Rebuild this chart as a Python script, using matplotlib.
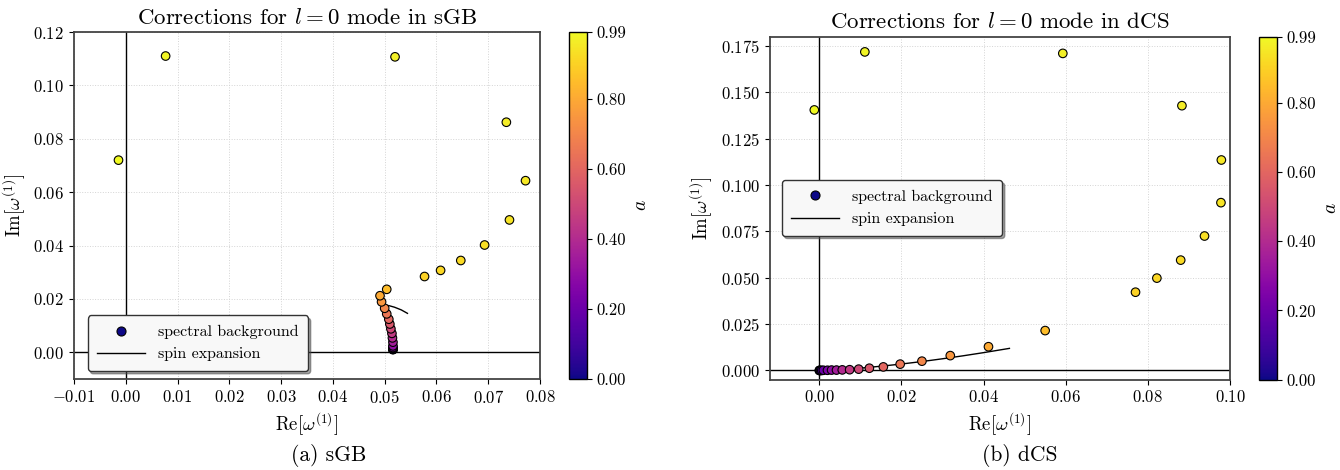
import numpy as np
import matplotlib
matplotlib.use("Agg")
import matplotlib.pyplot as plt
from matplotlib.lines import Line2D

plt.rcParams["font.family"] = "serif"
plt.rcParams["font.serif"] = ["cmr10", "DejaVu Serif"]
plt.rcParams["mathtext.fontset"] = "cm"
plt.rcParams["axes.formatter.use_mathtext"] = True
plt.rcParams["font.size"] = 12

# spins used for both theories
SPINS = [0.0, 0.05, 0.1, 0.15, 0.2, 0.25, 0.3, 0.35, 0.4, 0.45, 0.5, 0.55,
         0.6, 0.65, 0.7, 0.75, 0.8, 0.85, 0.9, 0.91, 0.92, 0.93, 0.94,
         0.95, 0.96, 0.97, 0.98, 0.99]

# sGB spectral background
SGB_RE = [0.0516, 0.0516, 0.0516, 0.0516, 0.0516, 0.0516, 0.0516, 0.0516,
          0.0515, 0.0514, 0.0512, 0.0510, 0.0508, 0.0504, 0.0500, 0.0494,
          0.0491, 0.0504, 0.0577, 0.0608, 0.0647, 0.0693, 0.0741, 0.0772,
          0.0735, 0.0520, 0.0077, -0.0014]
SGB_IM = [0.0010, 0.0011, 0.0012, 0.0013, 0.0015, 0.0018, 0.0024, 0.0038,
          0.0054, 0.0071, 0.0088, 0.0106, 0.0124, 0.0144, 0.0165, 0.0189,
          0.0212, 0.0236, 0.0284, 0.0307, 0.0344, 0.0402, 0.0496, 0.0643,
          0.0862, 0.1107, 0.1110, 0.0720]

# sGB spin expansion
SGB_EXP_RE = [0.0516, 0.0516, 0.0515, 0.0513, 0.0510, 0.0506, 0.0502, 0.0500,
              0.0508, 0.0519, 0.0532, 0.0544]
SGB_EXP_IM = [0.0010, 0.0030, 0.0055, 0.0080, 0.0105, 0.0130, 0.0155, 0.0175,
              0.0175, 0.0169, 0.0159, 0.0146]

# dCS spectral background
DCS_RE = [0.0, 0.0001, 0.0003, 0.0006, 0.0010, 0.0020, 0.0030, 0.0042,
          0.0056, 0.0074, 0.0096, 0.0122, 0.0156, 0.0197, 0.0250, 0.0319,
          0.0412, 0.0550, 0.0770, 0.0822, 0.0880, 0.0938, 0.0978, 0.0979,
          0.0883, 0.0593, 0.0111, -0.0012]
DCS_IM = [0.0, 0.0, 0.0, 0.0, 0.0001, 0.0001, 0.0002, 0.0002,
          0.0003, 0.0004, 0.0007, 0.0012, 0.0019, 0.0034, 0.0050, 0.0080,
          0.0128, 0.0215, 0.0422, 0.0498, 0.0595, 0.0725, 0.0905, 0.1135,
          0.1428, 0.1710, 0.1718, 0.1405]

# dCS spin expansion
DCS_EXP_RE = [0.0, 0.005, 0.01, 0.015, 0.02, 0.025, 0.03, 0.035, 0.04, 0.0463]
DCS_EXP_IM = [0.0, 0.00045, 0.00125, 0.00227, 0.00346, 0.0048, 0.00629,
              0.00789, 0.0096, 0.0119]

CBAR_TICKS = [0.0, 0.2, 0.4, 0.6, 0.8, 0.99]


def draw_panel(ax, cax, re, im, exp_re, exp_im, name):
    ax.axhline(0, color="black", lw=1.0, zorder=1)
    ax.axvline(0, color="black", lw=1.0, zorder=1)
    ax.plot(exp_re, exp_im, color="black", lw=1.0, zorder=2)
    sc = ax.scatter(re, im, c=SPINS, cmap="plasma", vmin=0, vmax=0.99,
                    s=38, edgecolors="black", linewidths=0.8, zorder=3)
    ax.grid(True, ls=":", color="#d4d4d4", lw=0.7)
    ax.set_axisbelow(True)
    ax.set_title(r"Corrections for $l=0$ mode in " + name, fontsize=16.5)
    ax.set_xlabel(r"$\mathrm{Re}[\omega^{(1)}]$", fontsize=13.5)
    ax.set_ylabel(r"$\mathrm{Im}[\omega^{(1)}]$", fontsize=13.5)
    ax.tick_params(labelsize=12)
    for sp in ax.spines.values():
        sp.set_color("#444444")
        sp.set_linewidth(1.3)

    cb = plt.colorbar(sc, cax=cax, ticks=CBAR_TICKS, format="%.2f")
    cb.set_label(r"$a$", fontsize=14, labelpad=4)
    cb.ax.tick_params(labelsize=12)
    cb.outline.set_linewidth(1.0)

    handles = [Line2D([], [], ls="none", marker="o", markersize=6.5,
                      markerfacecolor=plt.get_cmap("plasma")(0.0),
                      markeredgecolor="black", markeredgewidth=0.8),
               Line2D([], [], color="black", lw=1.0)]
    return handles


fig = plt.figure(figsize=(13.4, 4.7), dpi=100)

ax1 = fig.add_axes([0.0552, 0.1936, 0.3478, 0.7383])
cax1 = fig.add_axes([0.4246, 0.1936, 0.0134, 0.7383])
h = draw_panel(ax1, cax1, SGB_RE, SGB_IM, SGB_EXP_RE, SGB_EXP_IM, "sGB")
ax1.set_xlim(-0.01, 0.08)
ax1.set_ylim(-0.01, 0.12)
ax1.set_xticks(np.arange(-0.01, 0.0801, 0.01))
ax1.legend(h, ["spectral background", "spin expansion"], loc="lower left",
           bbox_to_anchor=(0.012, 0.0), shadow=True, fancybox=True,
           fontsize=11.5, edgecolor="#333333", framealpha=1.0,
           facecolor="#f8f8f8", handlelength=3.0, borderpad=0.6)

ax2 = fig.add_axes([0.5746, 0.1921, 0.3433, 0.7298])
cax2 = fig.add_axes([0.9396, 0.1921, 0.0134, 0.7298])
h = draw_panel(ax2, cax2, DCS_RE, DCS_IM, DCS_EXP_RE, DCS_EXP_IM, "dCS")
ax2.set_xlim(-0.012, 0.1)
ax2.set_ylim(-0.005, 0.18)
ax2.set_xticks([0.0, 0.02, 0.04, 0.06, 0.08, 0.10])
ax2.set_yticks(np.arange(0, 0.176, 0.025))
ax2.legend(h, ["spectral background", "spin expansion"], loc="upper left",
           bbox_to_anchor=(0.008, 0.605), shadow=True, fancybox=True,
           fontsize=11.5, edgecolor="#333333", framealpha=1.0,
           facecolor="#f8f8f8", handlelength=3.0, borderpad=0.6)

fig.text(0.245, 0.02, "(a) sGB", ha="center", fontsize=15.5)
fig.text(0.761, 0.02, "(b) dCS", ha="center", fontsize=15.5)

fig.savefig("out.png", dpi=100)
